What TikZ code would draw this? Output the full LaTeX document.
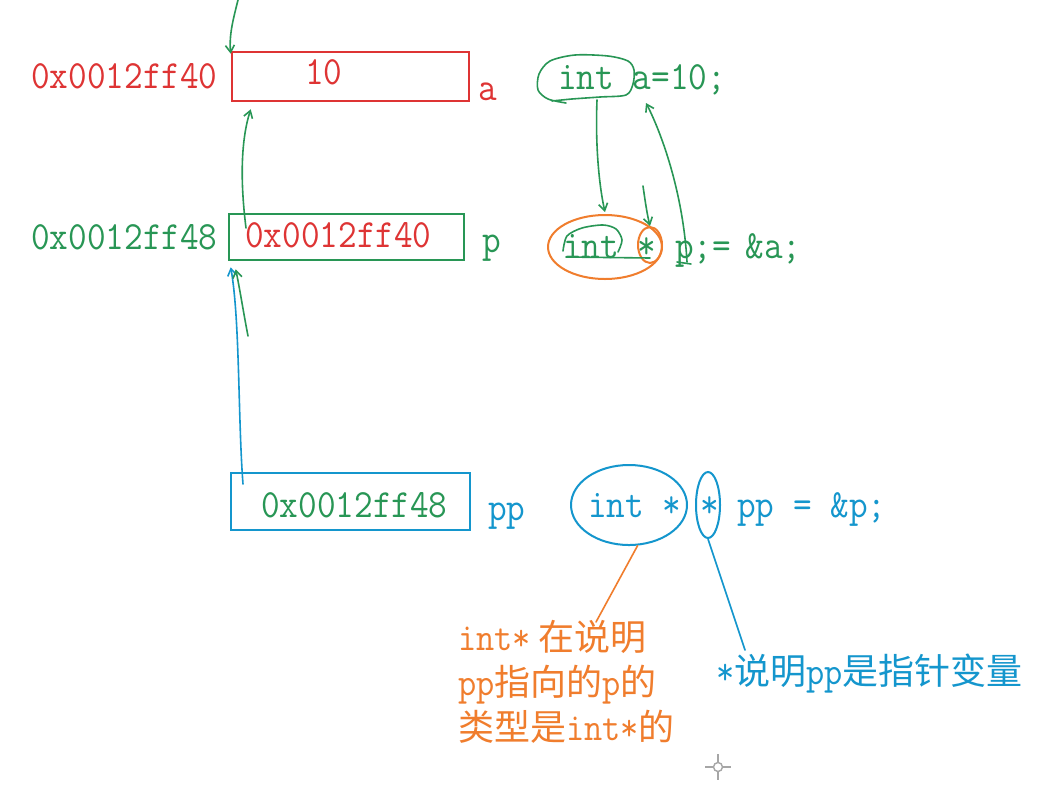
\documentclass[tikz,border=0pt]{standalone}
\usepackage{fontspec}
\setmainfont{Liberation Serif}
\newfontfamily\codefont[FakeStretch=0.905]{Latin Modern Mono}
\newfontfamily\cjk{Noto Sans CJK SC}
\newcommand\latpart[1]{{\codefont\fontsize{39}{45}\selectfont #1}}
\usetikzlibrary{shapes.geometric,arrows.meta}
\definecolor{cred}{RGB}{222,52,52}
\definecolor{cgreen}{RGB}{40,150,85}
\definecolor{cblue}{RGB}{20,150,205}
\definecolor{corange}{RGB}{240,125,45}
\begin{document}
\begin{tikzpicture}[x=1pt,y=-1pt,
  code/.style={font=\codefont\fontsize{40}{42}\selectfont, inner sep=0pt, anchor=base west},
  mem/.style={draw, line width=2.6pt, inner sep=0pt},
  hand/.style={line width=1.6pt, line cap=round, line join=round},
  harrow/.style={hand, -{Straight Barb[length=7pt,width=9pt]}},
  ring/.style={ellipse, draw, line width=2pt, inner sep=0pt},
  note/.style={font=\cjk\fontsize{36}{45}\selectfont, inner sep=0pt, anchor=base west, align=left}]
\useasboundingbox (0,0) rectangle (1048,796);
\fill[white] (0,0) rectangle (1048,796);

% ---- row a ----
\node[mem, draw=cred, minimum width=237, minimum height=49] (boxa) at (350.5,76.5) {};
\node[code, text=cred] (adra) at (31,88) {0x0012ff40};
\node[code, text=cred] (vala) at (305,84) {10};
\node[code, text=cred] (namea) at (478,100) {a};
\node[code, text=cgreen] (decla) at (558,89) {int a=10;};

% ---- row p ----
\node[mem, draw=cgreen, minimum width=235, minimum height=46] (boxp) at (346.5,237) {};
\node[code, text=cgreen] (adrp) at (31,249) {0x0012ff48};
\node[code, text=cred] (valp) at (245,247) {0x0012ff40};
\node[code, text=cgreen] (namep) at (482,252) {p};
\node[code, text=cgreen] (declp) at (563,258) {int * p;=\kern-4pt{} \&a;};

% ---- row pp ----
\node[mem, draw=cblue, minimum width=239, minimum height=57] (boxpp) at (350.5,501.5) {};
\node[code, text=cgreen] (valpp) at (261,517) {0x0012ff48};
\node[code, text=cblue] (namepp) at (488,520) {pp};
\node[code, text=cblue] (declpp) at (588,517) {int * * pp = \&p;};

% ---- rings ----
\node[ring, draw=corange, minimum width=114, minimum height=64] (ptype) at (605,247) {};
\node[ring, draw=corange, minimum width=24, minimum height=36] (pstar) at (650,245) {};
\node[ring, draw=cblue, minimum width=116, minimum height=80] (pptype) at (629,505) {};
\node[ring, draw=cblue, minimum width=24, minimum height=66] (ppstar) at (708,505) {};

% green cloud around the first int
\draw[hand, cgreen] plot[smooth] coordinates {(552,101) (572,99) (600,97) (626,95) (633,84) (634,70) (628,61) (608,56) (575,55) (550,61) (539,74) (538,90) (548,99) (566,103)};
% green scribble around the second int
\draw[hand, cgreen] plot[smooth] coordinates {(563,251) (567,236) (582,228) (603,225) (616,229) (622,240) (618,252)};
\draw[hand, cgreen] (566,257) -- (650,258);
\draw[hand, cgreen] (677,262) -- (691,264);

% ---- annotations ----
\node[note, text=corange] (notetype) at (458,740) {\latpart{int*} 在说明\\\latpart{pp}指向的\latpart{p}的\\类型是\latpart{int*}的};
\node[note, text=cblue] (notestar) at (716,684) {\latpart{*}说明\latpart{pp}是指针变量};
\coordinate (otip) at (596,622);
\coordinate (btip) at (745,650);
\draw[hand, corange] (pptype.-78) -- (otip);
\draw[hand, cblue] (ppstar.south) -- (btip);

% ---- hand arrows ----
\coordinate (topin) at (238,0);
\draw[harrow, cgreen] (topin) .. controls (233,20) and (229,35) .. ([yshift=-3]boxa.north west);
\coordinate (pstart) at (246,228);
\draw[harrow, cgreen] (pstart) .. controls (240,180) and (241,140) .. ([shift={(20,7)}]boxa.south west);
\coordinate (ppstart) at (243,484);
\draw[harrow, cblue] (ppstart) .. controls (238,420) and (240,320) .. ([shift={(3,6)}]boxp.south west);
\coordinate (gshort) at (248,336);
\draw[harrow, cgreen] (gshort) .. controls (243,310) and (240,290) .. ([shift={(8,8)}]boxp.south west);

\coordinate (cloudout) at (597,100);
\draw[harrow, cgreen] (cloudout) .. controls (595,150) and (600,190) .. ([yshift=2]ptype.north);
\coordinate (starin) at (643,186);
\draw[harrow, cgreen] (starin) .. controls (645,200) and (647,214) .. (pstar.north);
\coordinate (pfoot) at (687,262);
\coordinate (ahead) at (646,103);
\draw[harrow, cgreen] (pfoot) .. controls (683,190) and (660,130) .. (ahead);

% ---- mouse cursor ----
\draw[gray!70, line width=1.4pt] (718,767) circle (4.5);
\draw[gray!70, line width=1.4pt] (705,767) -- (713.5,767) (722.5,767) -- (731,767)
  (718,754) -- (718,762.5) (718,771.5) -- (718,780);
\end{tikzpicture}
\end{document}
